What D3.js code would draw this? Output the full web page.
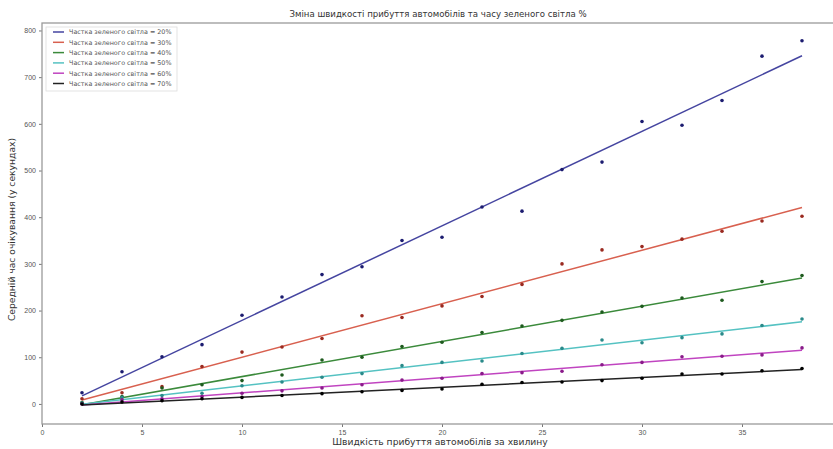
<!DOCTYPE html>
<html>
<head>
<meta charset="utf-8">
<script src="https://cdn.jsdelivr.net/npm/d3@7"></script>
<style>
  body { margin: 0; background: #fff; }
  svg { display: block; font-family: "DejaVu Sans", sans-serif; }
</style>
</head>
<body>
<div id="chart"></div>
<script>
// Arrival rate (cars per minute)
const rates = [2, 4, 6, 8, 10, 12, 14, 16, 18, 20, 22, 24, 26, 28, 30, 32, 34, 36, 38];

// Average waiting time per green-light share
const wait20 = [24, 69, 101, 127, 190, 229, 277, 294, 350, 357, 422, 413, 502, 518, 605, 597, 650, 745, 778];
const wait30 = [11, 24, 37, 80, 111, 122, 140, 189, 185, 210, 230, 256, 300, 330, 337, 353, 370, 392, 402];
const wait40 = [3, 16, 34, 41, 50, 62, 94, 100, 123, 132, 153, 167, 179, 197, 209, 227, 222, 262, 275];
const wait50 = [2, 14, 18, 23, 39, 47, 57, 65, 82, 89, 92, 108, 119, 137, 131, 142, 150, 168, 182];
const wait60 = [0, 9, 11, 16, 23, 28, 34, 41, 51, 55, 65, 67, 70, 84, 89, 101, 102, 105, 120];
const wait70 = [0, 4, 7, 11, 14, 18, 22, 26, 29, 32, 42, 46, 47, 50, 55, 64, 64, 71, 76];

const seriesLabels = ["Частка зеленого світла = 20%", "Частка зеленого світла = 30%",
  "Частка зеленого світла = 40%", "Частка зеленого світла = 50%",
  "Частка зеленого світла = 60%", "Частка зеленого світла = 70%"];
const seriesValues = [wait20, wait30, wait40, wait50, wait60, wait70];
const lineColors = ["#4545a0", "#d8604f", "#3b8a3b", "#55c2c2", "#c044c0", "#222222"];
const dotColors = ["#1c1c70", "#9a2a20", "#1e5a1e", "#2a8a8a", "#8a1a8a", "#000000"];

const xTicks = [0, 5, 10, 15, 20, 25, 30, 35];
const yTicks = [0, 100, 200, 300, 400, 500, 600, 700, 800];

const W = 833, H = 449;
const mLeft = 42, mRight = 842, mTop = 23, mBottom = 424;

const svg = d3.select("#chart").append("svg")
  .attr("width", W).attr("height", H);

const x = d3.scaleLinear().domain([0, 40]).range([mLeft, mRight]);
const y = d3.scaleLinear().domain([-43, 816]).range([mBottom, mTop]);

// least squares fit for each series
function fit(xs, ys) {
  const mx = d3.mean(xs), my = d3.mean(ys);
  let num = 0, den = 0;
  xs.forEach((v, i) => { num += (v - mx) * (ys[i] - my); den += (v - mx) * (v - mx); });
  const k = num / den;
  return v => my + k * (v - mx);
}

const plot = svg.append("g");

seriesValues.forEach((vals, i) => {
  const f = fit(rates, vals);
  const ends = [d3.min(rates), d3.max(rates)];
  plot.append("path")
    .datum(ends)
    .attr("fill", "none")
    .attr("stroke", lineColors[i])
    .attr("stroke-width", 1.5)
    .attr("d", d3.line().x(d => x(d)).y(d => y(f(d))));

  plot.selectAll(".dot" + i)
    .data(vals)
    .enter().append("circle")
    .attr("cx", (d, j) => x(rates[j]))
    .attr("cy", d => y(d))
    .attr("r", 1.8)
    .attr("fill", dotColors[i]);
});

// axes
const xAxis = svg.append("g")
  .attr("transform", `translate(0,${mBottom})`)
  .call(d3.axisBottom(x).tickValues(xTicks).tickSize(3).tickPadding(3));
const yAxis = svg.append("g")
  .attr("transform", `translate(${mLeft},0)`)
  .call(d3.axisLeft(y).tickValues(yTicks).tickSize(3).tickPadding(3));

[xAxis, yAxis].forEach(a => {
  a.select(".domain").remove();
  a.selectAll("line").attr("stroke", "#777");
  a.selectAll("text").style("font-size", "7px").attr("fill", "#555");
});

// frame
svg.append("rect")
  .attr("x", mLeft).attr("y", mTop)
  .attr("width", mRight - mLeft).attr("height", mBottom - mTop)
  .attr("fill", "none").attr("stroke", "#9a9a9a").attr("stroke-width", 1.3);

// title and axis labels
svg.append("text")
  .attr("x", 438).attr("y", 17)
  .attr("text-anchor", "middle")
  .style("font-size", "8.6px").attr("fill", "#333")
  .text("Зміна швидкості прибуття автомобілів та часу зеленого світла %");

svg.append("text")
  .attr("x", 440).attr("y", 445)
  .attr("text-anchor", "middle")
  .style("font-size", "9.2px").attr("fill", "#333")
  .text("Швидкість прибуття автомобілів за хвилину");

svg.append("text")
  .attr("transform", `translate(15,${(mTop + mBottom) / 2 + 6}) rotate(-90)`)
  .attr("text-anchor", "middle")
  .style("font-size", "9.2px").attr("fill", "#333")
  .text("Середній час очікування (у секундах)");

// legend
const legend = svg.append("g").attr("transform", "translate(46,27)");
legend.append("rect")
  .attr("width", 131).attr("height", 64)
  .attr("fill", "#fff").attr("stroke", "#ddd").attr("stroke-width", 0.8);
seriesLabels.forEach((lab, i) => {
  const gy = 5 + i * 10.3;
  legend.append("line")
    .attr("x1", 7).attr("x2", 18).attr("y1", gy).attr("y2", gy)
    .attr("stroke", lineColors[i]).attr("stroke-width", 1.5);
  legend.append("text")
    .attr("x", 23).attr("y", gy + 2.3)
    .style("font-size", "6.4px").attr("fill", "#555")
    .text(lab);
});
</script>
</body>
</html>
